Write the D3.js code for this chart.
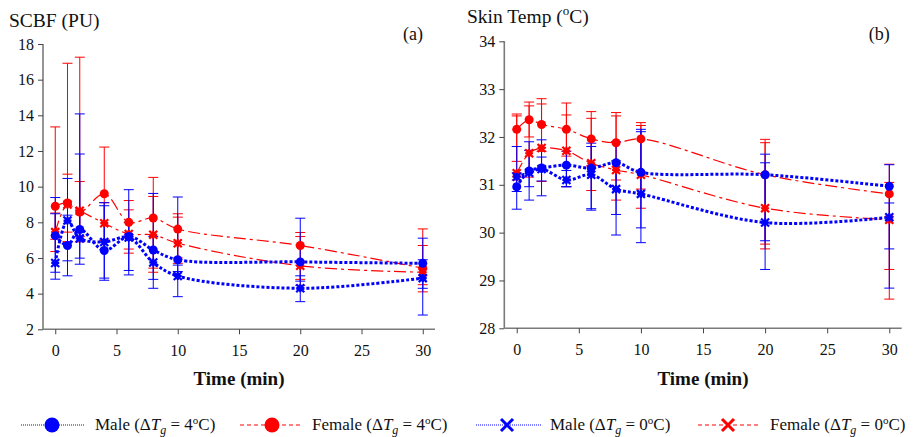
<!DOCTYPE html>
<html><head><meta charset="utf-8">
<script src="https://cdn.jsdelivr.net/npm/d3@7"></script>
<style>
body{margin:0;background:#fff;}
svg text{font-family:"Liberation Serif","DejaVu Serif","Times New Roman",serif !important;fill:#111;}
</style></head>
<body>
<svg id="chart" width="915" height="437" font-family="Liberation Serif, DejaVu Serif, serif"></svg>
<script>
const times = [0, 1, 2, 4, 6, 8, 10, 20, 30];
const xTicks = [0, 5, 10, 15, 20, 25, 30];
const yTicksA = [2, 4, 6, 8, 10, 12, 14, 16, 18];
const yTicksB = [28, 29, 30, 31, 32, 33, 34];

// Panel (a) SCBF (PU)
const aMale4   = [7.25, 6.70, 7.60, 6.42, 7.20, 6.45, 5.90, 5.78, 5.70];
const aMale4Hi = [9.39, 8.40, 14.08, 9.10, 9.83, 9.62, 9.42, 8.23, 7.11];
const aMale4Lo = [5.20, 5.00, 5.65, 4.75, 5.05, 4.80, 5.24, 4.70, 4.30];
const aMale0   = [5.72, 8.10, 7.10, 6.90, 7.15, 5.75, 4.99, 4.30, 4.87];
const aMale0Hi = [8.48, 10.46, 11.83, 8.93, 8.00, 7.20, 5.60, 5.00, 5.90];
const aMale0Lo = [4.81, 5.84, 5.99, 4.87, 5.30, 4.30, 3.83, 3.55, 2.80];
const aFem4    = [8.90, 9.08, 8.57, 9.60, 8.00, 8.24, 7.62, 6.70, 5.43];
const aFem4Hi  = [13.35, 10.70, 10.29, 12.22, 9.22, 10.52, 8.48, 7.43, 7.63];
const aFem4Lo  = [7.05, 6.92, 6.90, 7.00, 6.50, 5.43, 6.00, 4.80, 4.10];
const aFem0    = [7.45, 9.00, 8.65, 7.95, 7.35, 7.30, 6.83, 5.56, 5.20];
const aFem0Hi  = [8.52, 16.92, 17.26, 9.10, 8.70, 9.45, 8.29, 7.20, 6.70];
const aFem0Lo  = [6.36, 7.45, 7.20, 7.00, 6.27, 5.20, 5.70, 4.46, 4.50];

// Panel (b) Skin Temp (°C)
const bMale4   = [30.96, 31.29, 31.35, 31.41, 31.35, 31.46, 31.26, 31.21, 30.97];
const bMale4Hi = [31.25, 31.90, 31.94, 31.70, 31.87, 31.90, 32.16, 31.64, 31.42];
const bMale4Lo = [30.49, 30.68, 30.77, 30.96, 30.47, 30.38, 30.10, 29.83, 29.66];
const bMale0   = [31.17, 31.25, 31.33, 31.10, 31.21, 30.91, 30.81, 30.21, 30.32];
const bMale0Hi = [31.80, 31.72, 31.58, 31.30, 31.80, 31.50, 32.11, 31.46, 30.62];
const bMale0Lo = [30.86, 30.96, 31.08, 30.96, 30.50, 29.95, 29.79, 29.23, 28.84];
const bFem4    = [32.16, 32.36, 32.26, 32.16, 31.96, 31.88, 31.96, 31.21, 30.81];
const bFem4Hi  = [32.48, 32.73, 32.80, 32.71, 32.53, 32.51, 32.30, 31.95, 31.43];
const bFem4Lo  = [31.49, 32.00, 31.70, 31.60, 31.40, 31.10, 30.91, 29.76, 29.23];
const bFem0    = [31.24, 31.66, 31.77, 31.71, 31.45, 31.31, 31.21, 30.51, 30.27];
const bFem0Hi  = [32.44, 32.65, 32.69, 32.46, 32.39, 32.44, 32.24, 31.88, 31.05];
const bFem0Lo  = [31.10, 31.16, 31.07, 30.96, 30.88, 30.68, 30.51, 29.66, 28.61];

const BLUE = "#0000ff", RED = "#ff0000";
const FONT = "Liberation Serif, DejaVu Serif, serif";
const svg = d3.select("#chart");

function series(v, hi, lo, color, marker, style){
  return {data: times.map((t,i)=>({t, v:v[i], hi:hi[i], lo:lo[i]})), color, marker, style};
}

function panel(opts){
  const g = svg.append("g");
  const x = d3.scaleLinear().domain([-1,31]).range([opts.x0, opts.x1]);
  const y = d3.scaleLinear().domain(opts.yDomain).range([opts.y0, opts.y1]);

  const ya = g.append("g").attr("transform",`translate(${opts.x0},0)`)
    .call(d3.axisLeft(y).tickValues(opts.yTicks).tickSize(5).tickPadding(4).tickFormat(d3.format("d")));
  const xa = g.append("g").attr("transform",`translate(0,${opts.y0})`)
    .call(d3.axisBottom(x).tickValues(xTicks).tickSize(5).tickPadding(10).tickFormat(d3.format("d")));
  [ya,xa].forEach(a=>{
    a.attr("font-family",FONT).attr("font-size",16);
    a.select(".domain").attr("stroke","#7a7a7a").attr("stroke-width",1.6);
    a.selectAll(".tick line").attr("stroke","#444");
    a.selectAll(".tick text").attr("font-family",FONT).attr("font-size",16).attr("fill","#222");
  });
  xa.select(".domain").attr("d",`M${opts.x0},0H${opts.x1}`);
  ya.select(".domain").attr("d",`M0,${opts.y0}V${opts.y1}`);

  const ser = opts.series;
  const eb = g.append("g");
  ser.forEach(s=>{
    s.data.forEach(d=>{
      const cx = x(d.t);
      eb.append("line").attr("x1",cx).attr("x2",cx).attr("y1",y(d.hi)).attr("y2",y(d.lo))
        .attr("stroke",s.color).attr("stroke-width",1);
      [d.hi,d.lo].forEach(val=>{
        eb.append("line").attr("x1",cx-5).attr("x2",cx+5).attr("y1",y(val)).attr("y2",y(val))
          .attr("stroke",s.color).attr("stroke-width",1);
      });
    });
  });
  const line = d3.line().x(d=>x(d.t)).y(d=>y(d.v)).curve(d3.curveCatmullRom.alpha(0.5));
  ser.forEach(s=>{
    g.append("path").attr("d",line(s.data)).attr("fill","none")
      .attr("stroke",s.color)
      .attr("stroke-width",s.style==="dot"?3:1.2)
      .attr("stroke-dasharray",s.style==="dot"?"3,2":"12,4,3,4");
  });
  ser.forEach(s=>{
    s.data.forEach(d=>{
      const cx=x(d.t), cy=y(d.v);
      if(s.marker==="circle"){
        g.append("circle").attr("cx",cx).attr("cy",cy).attr("r",4.5).attr("fill",s.color);
      } else {
        const r=4;
        g.append("path").attr("d",`M${cx-r},${cy-r}L${cx+r},${cy+r}M${cx-r},${cy+r}L${cx+r},${cy-r}M${cx},${cy-r}L${cx},${cy+r}M${cx-r},${cy}L${cx+r},${cy}`)
          .attr("stroke",s.color).attr("stroke-width",2.2).attr("fill","none");
      }
    });
  });

  g.append("text").attr("x",(x(0)+x(30))/2).attr("y",385).attr("text-anchor","middle")
    .attr("font-family",FONT).attr("font-size",19).attr("font-weight","bold").attr("fill","#222").text("Time (min)");
  g.append("text").attr("x",opts.x1-12).attr("y",40).attr("text-anchor","end")
    .attr("font-family",FONT).attr("font-size",18).text(opts.letter);
  return g;
}

panel({x0:43, x1:435, y0:329.3, y1:44, yDomain:[2,18], yTicks:yTicksA, letter:"(a)",
  series:[
    series(aFem4,aFem4Hi,aFem4Lo,RED,"circle","dash"),
    series(aFem0,aFem0Hi,aFem0Lo,RED,"x","dash"),
    series(aMale4,aMale4Hi,aMale4Lo,BLUE,"circle","dot"),
    series(aMale0,aMale0Hi,aMale0Lo,BLUE,"x","dot")
  ]});
panel({x0:504.3, x1:901.7, y0:328.3, y1:41.3, yDomain:[28,34], yTicks:yTicksB, letter:"(b)",
  series:[
    series(bFem4,bFem4Hi,bFem4Lo,RED,"circle","dash"),
    series(bFem0,bFem0Hi,bFem0Lo,RED,"x","dash"),
    series(bMale4,bMale4Hi,bMale4Lo,BLUE,"circle","dot"),
    series(bMale0,bMale0Hi,bMale0Lo,BLUE,"x","dot")
  ]});

svg.append("text").attr("x",9).attr("y",27).attr("font-family",FONT).attr("font-size",19.5).text("SCBF (PU)");
const tb = svg.append("text").attr("x",467).attr("y",23).attr("font-family",FONT).attr("font-size",19.5);
tb.append("tspan").text("Skin Temp (");
tb.append("tspan").attr("dy",-8).attr("font-size",13).text("o");
tb.append("tspan").attr("dy",8).text("C)");

const legendItems = [
  {label:"Male", dT:"4", color:BLUE, marker:"circle", style:"dot", lx:21, rx:85, mx:52, tx:95},
  {label:"Female", dT:"4", color:RED, marker:"circle", style:"dash", lx:240, rx:302, mx:272, tx:312},
  {label:"Male", dT:"0", color:BLUE, marker:"x", style:"dot", lx:476, rx:541, mx:507, tx:550},
  {label:"Female", dT:"0", color:RED, marker:"x", style:"dash", lx:698, rx:760, mx:728, tx:770}
];
const ly = 425;
const lg = svg.append("g");
legendItems.forEach(it=>{
  lg.append("line").attr("x1",it.lx).attr("x2",it.rx).attr("y1",ly).attr("y2",ly)
    .attr("stroke",it.color).attr("stroke-width",1)
    .attr("stroke-dasharray",it.style==="dot"?"1,1":"4,3");
  if(it.marker==="circle"){
    lg.append("circle").attr("cx",it.mx).attr("cy",ly).attr("r",7.5).attr("fill",it.color);
  } else {
    const r=6;
    lg.append("path").attr("d",`M${it.mx-r},${ly-r}L${it.mx+r},${ly+r}M${it.mx-r},${ly+r}L${it.mx+r},${ly-r}`)
      .attr("stroke",it.color).attr("stroke-width",3).attr("fill","none");
  }
  const t = lg.append("text").attr("x",it.tx).attr("y",ly+5).attr("font-family",FONT).attr("font-size",17);
  t.append("tspan").text(it.label+" (\u0394");
  t.append("tspan").attr("font-style","italic").text("T");
  t.append("tspan").attr("dy",4).attr("font-size",12).attr("font-style","italic").text("g");
  t.append("tspan").attr("dy",-4).text(" = "+it.dT);
  t.append("tspan").attr("dy",-6).attr("font-size",11).text("o");
  t.append("tspan").attr("dy",6).text("C)");
});
</script>
</body></html>
